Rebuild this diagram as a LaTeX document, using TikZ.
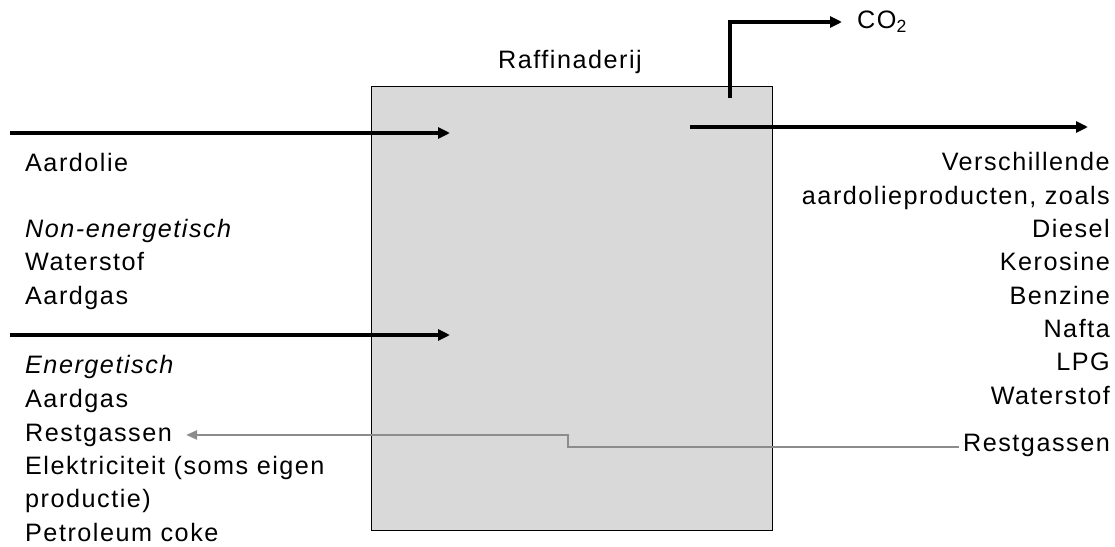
\documentclass[tikz,border=0pt]{standalone}
\usepackage{fontspec}
\setmainfont{Liberation Sans}[LetterSpace=6]
\usetikzlibrary{positioning}
\usetikzlibrary{arrows.meta}
\definecolor{boxgray}{RGB}{217,217,217}
\definecolor{flowgray}{RGB}{140,140,140}

\begin{document}
\begin{tikzpicture}[x=1pt, y=-1pt,
    flow/.style={line width=3.2pt, -{Triangle[length=12pt, width=11pt]}},
    backflow/.style={line width=2.2pt, flowgray, -{Triangle[length=11pt, width=9pt]}},
    txt/.style={font=\fontsize{25.2}{33.3}\selectfont, inner sep=0pt}]
    \useasboundingbox (0, 0) rectangle (1115, 546);

    % de raffinaderij
    \node[draw, line width=0.8pt, fill=boxgray, minimum width=401pt, minimum height=444pt,
        anchor=north west] (raf) at (371, 86) {};
    \node[txt, anchor=base] (rafname) at (570, 68) {Raffinaderij};

    % invoer links
    \node[txt, anchor=base west] (aardolie) at (25, 171) {Aardolie};
    \node[txt, anchor=base west, align=left] (nonen) at (25, 304)
        {\textit{Non-energetisch}\\Waterstof\\Aardgas};
    \node[txt, anchor=base west, align=left] (en) at (25, 407)
        {\textit{Energetisch}\\Aardgas};
    \node[txt, anchor=base west] (restL) at (25, 441) {Restgassen};
    \node[txt, anchor=base west, align=left] (elek) at (25, 541)
        {Elektriciteit (soms eigen\\productie)\\Petroleum coke};

    % uitvoer rechts
    \node[txt, anchor=base east, align=right] (prod) at (1110, 404)
        {Verschillende\\aardolieproducten, zoals\\Diesel\\Kerosine\\Benzine\\Nafta\\LPG\\Waterstof};
    \node[txt, anchor=base east] (restR) at (1110, 451) {Restgassen};
    \node[txt, anchor=west] (co2) at (857, 22) {CO\textsubscript{2}};

    % pijlen
    \coordinate (inA) at (10, 133);
    \coordinate (inAend) at (450, 133);
    \coordinate (inB) at (10, 335);
    \coordinate (inBend) at (450, 335);
    \coordinate (outs) at (690, 127);
    \coordinate (outsend) at (1088, 127);
    \coordinate (co2s) at (730, 98);
    \coordinate (bend) at (568, 447);

    \draw[flow] (inA) -- (inAend);
    \draw[flow] (inB) -- (inBend);
    \draw[flow] (outs) -- (outsend);
    \draw[flow] (co2s) |- ([xshift=-15pt]co2.west);
    \draw[backflow] ([xshift=-4pt]restR.west |- bend) -- (bend) |- ([xshift=14pt]restL.east);
\end{tikzpicture}
\end{document}
